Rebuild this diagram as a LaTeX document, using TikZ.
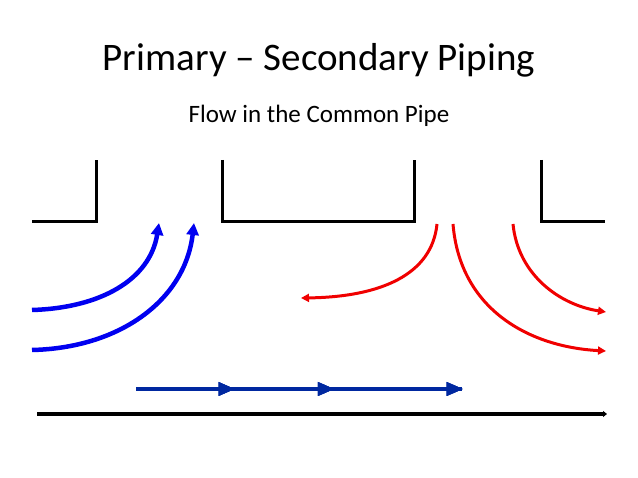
\documentclass[tikz,border=0pt]{standalone}
\usepackage{fontspec}
\setmainfont{Carlito}
\usetikzlibrary{arrows.meta,decorations.markings}
\definecolor{bl}{RGB}{0,0,240}
\definecolor{dbl}{RGB}{0,40,160}
\definecolor{rd}{RGB}{240,0,0}
\begin{document}
\begin{tikzpicture}[x=1pt,y=-1pt,
  wall/.style={line width=3pt,black},
  bluearr/.style={line width=4.5pt,bl,-{Triangle[length=12pt,width=12pt]}},
  redarr/.style={line width=3pt,rd,-{Triangle[length=8pt,width=8pt]}},
  flowline/.style={line width=4.5pt,dbl},
  mid/.style={postaction={decorate},decoration={markings,mark=at position #1 with {\fill[dbl] (-12pt,-7pt)--(4pt,0)--(-12pt,7pt)--cycle;}}}]
\useasboundingbox (0,0) rectangle (638,478);
\node (t) at (319,60) {\fontsize{39}{44}\selectfont Primary – Secondary Piping};
\node (s) at (319,116) {\fontsize{25}{28}\selectfont Flow in the Common Pipe};
% walls
\draw[wall] (32,222) -- (96,222) -- (96,160);
\draw[wall] (222,160) -- (222,222) -- (414,222) -- (414,160);
\draw[wall] (541,160) -- (541,222) -- (605,222);
% blue
\coordinate (b1s) at (32,310); \coordinate (b1e) at (159,223);
\coordinate (b2s) at (32,350); \coordinate (b2e) at (194,223);
\draw[bluearr] (b1s) .. controls (100,308) and (150,280) .. (b1e);
\draw[bluearr] (b2s) .. controls (120,348) and (185,300) .. (b2e);
% red
\coordinate (r1s) at (437,224); \coordinate (r1e) at (301,298);
\coordinate (r2s) at (453,224); \coordinate (r2e) at (606,351);
\coordinate (r3s) at (513,224); \coordinate (r3e) at (606,312);
\draw[redarr] (r1s) .. controls (432,275) and (380,297) .. (r1e);
\draw[redarr] (r2s) .. controls (460,310) and (530,347) .. (r2e);
\draw[redarr] (r3s) .. controls (518,275) and (560,305) .. (r3e);
% common pipe flow
\coordinate (f1) at (136,389); \coordinate (f2) at (462,389);
\draw[flowline,mid=0.29,mid=0.595,mid=0.99] (f1) -- (f2);
% main pipe
\coordinate (m1) at (37,414); \coordinate (m2) at (607,414);
\draw[line width=4pt,black,-{Triangle[length=4pt,width=6pt]}] (m1) -- (m2);
\end{tikzpicture}
\end{document}
